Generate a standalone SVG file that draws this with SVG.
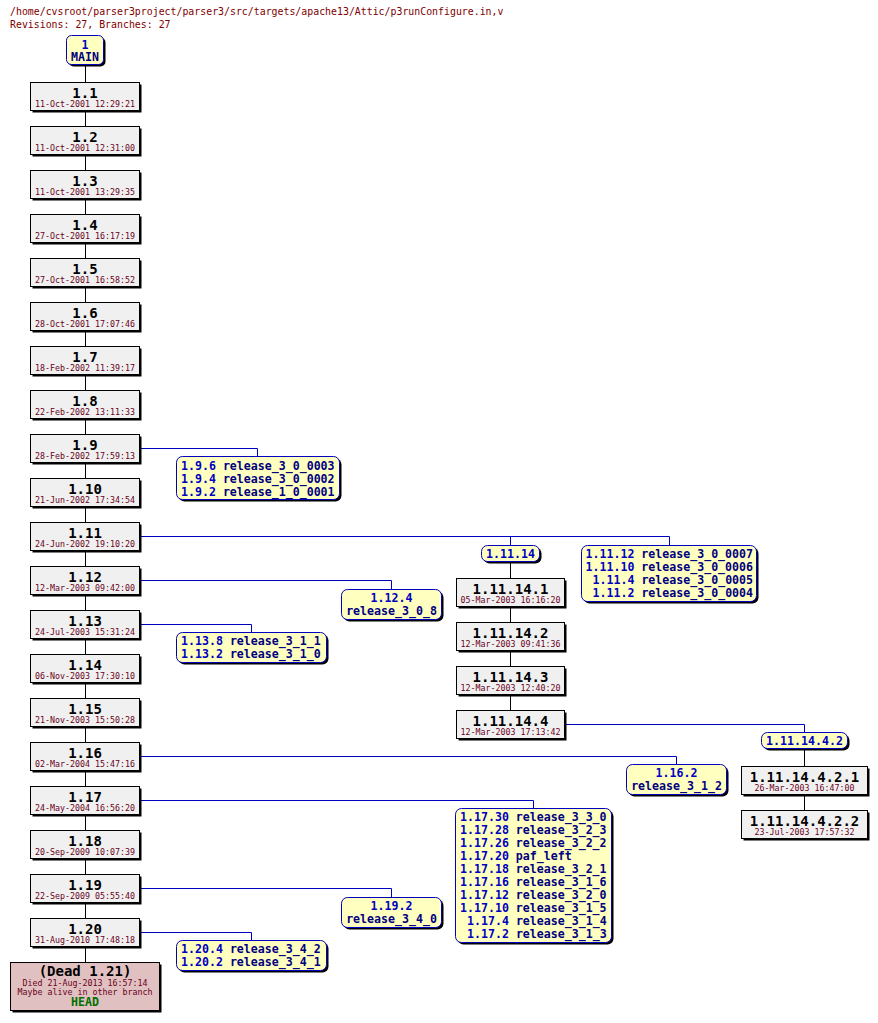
<svg xmlns="http://www.w3.org/2000/svg" width="878" height="1023" viewBox="0 0 878 1023">
<style>
.bg{fill:#fff}
.hd{font-family:"DejaVu Sans Mono","Liberation Mono",monospace;font-size:9.9px;fill:#800000}
.sh{fill:#000}
.rb{fill:#f0f0f0;stroke:#000;stroke-width:1}
.db{fill:#e0c0c0;stroke:#000;stroke-width:1}
.tb{fill:#ffffc0;stroke:#0000c0;stroke-width:1}
.rv{font-family:"DejaVu Sans Mono","Liberation Mono",monospace;font-weight:bold;font-size:14px;fill:#000;text-anchor:middle}
.dt{font-family:"DejaVu Sans Mono","Liberation Mono",monospace;font-size:8.3px;fill:#6a0020;text-anchor:middle}
.tg{font-family:"DejaVu Sans Mono","Liberation Mono",monospace;font-weight:bold;font-size:11.6px}
.c{text-anchor:middle}
.bn{fill:#0000c0}
.tn{fill:#000080}
.hh{fill:#007000}
.ml{stroke:#000;stroke-width:1;fill:none}
.bl{stroke:#0000c0;stroke-width:1;fill:none}
</style>
<rect class="bg" x="0" y="0" width="878" height="1023"/>
<g id="header">
<text class="hd" x="10" y="15">/home/cvsroot/parser3project/parser3/src/targets/apache13/Attic/p3runConfigure.in,v</text>
<text class="hd" x="10" y="28">Revisions: 27, Branches: 27</text>
</g>
<g id="connectors">
<path class="ml" d="M85.5 64.5V82M85.5 110V126M85.5 154V170M85.5 198V214M85.5 242V258M85.5 286V302M85.5 330V346M85.5 374V390M85.5 418V434M85.5 462V478M85.5 506V522M85.5 550V566M85.5 594V610M85.5 638V654M85.5 682V698M85.5 726V742M85.5 770V786M85.5 814V830M85.5 858V874M85.5 902V918M85.5 946V962"/>
<path class="ml" d="M510.5 562V578M510.5 606V622M510.5 650V666M510.5 694V710M804.5 750V766M804.5 794V810"/>
<path class="bl" d="M139.5 448.5H257.5V456"/>
<path class="bl" d="M139.5 536.5H669.5V545M510.5 536.5V545"/>
<path class="bl" d="M139.5 580.5H391.5V589"/>
<path class="bl" d="M139.5 624.5H251.5V632"/>
<path class="bl" d="M564.5 724.5H804.5V732"/>
<path class="bl" d="M139.5 756.5H676.5V764"/>
<path class="bl" d="M139.5 800.5H533.5V808"/>
<path class="bl" d="M139.5 888.5H391.5V897"/>
<path class="bl" d="M139.5 932.5H251.5V940"/>
</g>
<g id="n-main">
<rect class="sh" x="68.5" y="37.5" width="37" height="29" rx="5"/>
<rect class="tb" x="66.5" y="35.5" width="37" height="29" rx="5"/>
<text class="tg c bn" x="85" y="48.5">1</text>
<text class="tg c tn" x="85" y="61">MAIN</text>
</g>
<g id="n-1.1"><rect class="sh" x="32.5" y="84.5" width="109" height="28"/><rect class="rb" x="30.5" y="82.5" width="109" height="28"/><text class="rv" x="85" y="97.5">1.1</text><text class="dt" x="85" y="107">11-Oct-2001 12:29:21</text></g>
<g id="n-1.2"><rect class="sh" x="32.5" y="128.5" width="109" height="28"/><rect class="rb" x="30.5" y="126.5" width="109" height="28"/><text class="rv" x="85" y="141.5">1.2</text><text class="dt" x="85" y="151">11-Oct-2001 12:31:00</text></g>
<g id="n-1.3"><rect class="sh" x="32.5" y="172.5" width="109" height="28"/><rect class="rb" x="30.5" y="170.5" width="109" height="28"/><text class="rv" x="85" y="185.5">1.3</text><text class="dt" x="85" y="195">11-Oct-2001 13:29:35</text></g>
<g id="n-1.4"><rect class="sh" x="32.5" y="216.5" width="109" height="28"/><rect class="rb" x="30.5" y="214.5" width="109" height="28"/><text class="rv" x="85" y="229.5">1.4</text><text class="dt" x="85" y="239">27-Oct-2001 16:17:19</text></g>
<g id="n-1.5"><rect class="sh" x="32.5" y="260.5" width="109" height="28"/><rect class="rb" x="30.5" y="258.5" width="109" height="28"/><text class="rv" x="85" y="273.5">1.5</text><text class="dt" x="85" y="283">27-Oct-2001 16:58:52</text></g>
<g id="n-1.6"><rect class="sh" x="32.5" y="304.5" width="109" height="28"/><rect class="rb" x="30.5" y="302.5" width="109" height="28"/><text class="rv" x="85" y="317.5">1.6</text><text class="dt" x="85" y="327">28-Oct-2001 17:07:46</text></g>
<g id="n-1.7"><rect class="sh" x="32.5" y="348.5" width="109" height="28"/><rect class="rb" x="30.5" y="346.5" width="109" height="28"/><text class="rv" x="85" y="361.5">1.7</text><text class="dt" x="85" y="371">18-Feb-2002 11:39:17</text></g>
<g id="n-1.8"><rect class="sh" x="32.5" y="392.5" width="109" height="28"/><rect class="rb" x="30.5" y="390.5" width="109" height="28"/><text class="rv" x="85" y="405.5">1.8</text><text class="dt" x="85" y="415">22-Feb-2002 13:11:33</text></g>
<g id="n-1.9"><rect class="sh" x="32.5" y="436.5" width="109" height="28"/><rect class="rb" x="30.5" y="434.5" width="109" height="28"/><text class="rv" x="85" y="449.5">1.9</text><text class="dt" x="85" y="459">28-Feb-2002 17:59:13</text></g>
<g id="n-1.10"><rect class="sh" x="32.5" y="480.5" width="109" height="28"/><rect class="rb" x="30.5" y="478.5" width="109" height="28"/><text class="rv" x="85" y="493.5">1.10</text><text class="dt" x="85" y="503">21-Jun-2002 17:34:54</text></g>
<g id="n-1.11"><rect class="sh" x="32.5" y="524.5" width="109" height="28"/><rect class="rb" x="30.5" y="522.5" width="109" height="28"/><text class="rv" x="85" y="537.5">1.11</text><text class="dt" x="85" y="547">24-Jun-2002 19:10:20</text></g>
<g id="n-1.12"><rect class="sh" x="32.5" y="568.5" width="109" height="28"/><rect class="rb" x="30.5" y="566.5" width="109" height="28"/><text class="rv" x="85" y="581.5">1.12</text><text class="dt" x="85" y="591">12-Mar-2003 09:42:00</text></g>
<g id="n-1.13"><rect class="sh" x="32.5" y="612.5" width="109" height="28"/><rect class="rb" x="30.5" y="610.5" width="109" height="28"/><text class="rv" x="85" y="625.5">1.13</text><text class="dt" x="85" y="635">24-Jul-2003 15:31:24</text></g>
<g id="n-1.14"><rect class="sh" x="32.5" y="656.5" width="109" height="28"/><rect class="rb" x="30.5" y="654.5" width="109" height="28"/><text class="rv" x="85" y="669.5">1.14</text><text class="dt" x="85" y="679">06-Nov-2003 17:30:10</text></g>
<g id="n-1.15"><rect class="sh" x="32.5" y="700.5" width="109" height="28"/><rect class="rb" x="30.5" y="698.5" width="109" height="28"/><text class="rv" x="85" y="713.5">1.15</text><text class="dt" x="85" y="723">21-Nov-2003 15:50:28</text></g>
<g id="n-1.16"><rect class="sh" x="32.5" y="744.5" width="109" height="28"/><rect class="rb" x="30.5" y="742.5" width="109" height="28"/><text class="rv" x="85" y="757.5">1.16</text><text class="dt" x="85" y="767">02-Mar-2004 15:47:16</text></g>
<g id="n-1.17"><rect class="sh" x="32.5" y="788.5" width="109" height="28"/><rect class="rb" x="30.5" y="786.5" width="109" height="28"/><text class="rv" x="85" y="801.5">1.17</text><text class="dt" x="85" y="811">24-May-2004 16:56:20</text></g>
<g id="n-1.18"><rect class="sh" x="32.5" y="832.5" width="109" height="28"/><rect class="rb" x="30.5" y="830.5" width="109" height="28"/><text class="rv" x="85" y="845.5">1.18</text><text class="dt" x="85" y="855">20-Sep-2009 10:07:39</text></g>
<g id="n-1.19"><rect class="sh" x="32.5" y="876.5" width="109" height="28"/><rect class="rb" x="30.5" y="874.5" width="109" height="28"/><text class="rv" x="85" y="889.5">1.19</text><text class="dt" x="85" y="899">22-Sep-2009 05:55:40</text></g>
<g id="n-1.20"><rect class="sh" x="32.5" y="920.5" width="109" height="28"/><rect class="rb" x="30.5" y="918.5" width="109" height="28"/><text class="rv" x="85" y="933.5">1.20</text><text class="dt" x="85" y="943">31-Aug-2010 17:48:18</text></g>
<g id="n-dead">
<rect class="sh" x="12.5" y="964.5" width="149" height="48"/>
<rect class="db" x="10.5" y="962.5" width="149" height="48"/>
<text class="rv" x="85" y="976">(Dead 1.21)</text>
<text class="dt" x="85" y="986">Died 21-Aug-2013 16:57:14</text>
<text class="dt" x="85" y="994.5">Maybe alive in other branch</text>
<text class="tg c hh" x="85" y="1006">HEAD</text>
</g>
<g id="t-1.9">
<rect class="sh" x="178.5" y="458.5" width="163" height="43" rx="6"/>
<rect class="tb" x="176.5" y="456.5" width="163" height="43" rx="6"/>
<text class="tg" x="181" y="469.5"><tspan class="bn">1.9.6 </tspan><tspan class="tn">release_3_0_0003</tspan></text>
<text class="tg" x="181" y="482.5"><tspan class="bn">1.9.4 </tspan><tspan class="tn">release_3_0_0002</tspan></text>
<text class="tg" x="181" y="495.5"><tspan class="bn">1.9.2 </tspan><tspan class="tn">release_1_0_0001</tspan></text>
</g>
<g id="t-1.11.14">
<rect class="sh" x="483.5" y="547.5" width="58" height="16" rx="6"/>
<rect class="tb" x="481.5" y="545.5" width="58" height="16" rx="6"/>
<text class="tg c bn" x="510.5" y="558">1.11.14</text>
</g>
<g id="t-1.11.12">
<rect class="sh" x="583.5" y="547.5" width="175" height="56" rx="6"/>
<rect class="tb" x="581.5" y="545.5" width="175" height="56" rx="6"/>
<text class="tg" x="585.5" y="558"><tspan class="bn">1.11.12 </tspan><tspan class="tn">release_3_0_0007</tspan></text>
<text class="tg" x="585.5" y="571"><tspan class="bn">1.11.10 </tspan><tspan class="tn">release_3_0_0006</tspan></text>
<text class="tg" x="592.5" y="584"><tspan class="bn">1.11.4 </tspan><tspan class="tn">release_3_0_0005</tspan></text>
<text class="tg" x="592.5" y="597"><tspan class="bn">1.11.2 </tspan><tspan class="tn">release_3_0_0004</tspan></text>
</g>
<g id="n-1.11.14.1"><rect class="sh" x="458.5" y="580.5" width="108" height="28"/><rect class="rb" x="456.5" y="578.5" width="108" height="28"/><text class="rv" x="510.5" y="593.5">1.11.14.1</text><text class="dt" x="510.5" y="603">05-Mar-2003 16:16:20</text></g>
<g id="n-1.11.14.2"><rect class="sh" x="458.5" y="624.5" width="108" height="28"/><rect class="rb" x="456.5" y="622.5" width="108" height="28"/><text class="rv" x="510.5" y="637.5">1.11.14.2</text><text class="dt" x="510.5" y="647">12-Mar-2003 09:41:36</text></g>
<g id="n-1.11.14.3"><rect class="sh" x="458.5" y="668.5" width="108" height="28"/><rect class="rb" x="456.5" y="666.5" width="108" height="28"/><text class="rv" x="510.5" y="681.5">1.11.14.3</text><text class="dt" x="510.5" y="691">12-Mar-2003 12:40:20</text></g>
<g id="n-1.11.14.4"><rect class="sh" x="458.5" y="712.5" width="108" height="28"/><rect class="rb" x="456.5" y="710.5" width="108" height="28"/><text class="rv" x="510.5" y="725.5">1.11.14.4</text><text class="dt" x="510.5" y="735">12-Mar-2003 17:13:42</text></g>
<g id="t-1.12">
<rect class="sh" x="343.5" y="591.5" width="100" height="30" rx="6"/>
<rect class="tb" x="341.5" y="589.5" width="100" height="30" rx="6"/>
<text class="tg c bn" x="391.5" y="602">1.12.4</text>
<text class="tg c tn" x="391.5" y="615">release_3_0_8</text>
</g>
<g id="t-1.13">
<rect class="sh" x="178.5" y="634.5" width="150" height="30" rx="6"/>
<rect class="tb" x="176.5" y="632.5" width="150" height="30" rx="6"/>
<text class="tg" x="181" y="645"><tspan class="bn">1.13.8 </tspan><tspan class="tn">release_3_1_1</tspan></text>
<text class="tg" x="181" y="658"><tspan class="bn">1.13.2 </tspan><tspan class="tn">release_3_1_0</tspan></text>
</g>
<g id="t-1.11.14.4.2">
<rect class="sh" x="763.5" y="734.5" width="86" height="16" rx="6"/>
<rect class="tb" x="761.5" y="732.5" width="86" height="16" rx="6"/>
<text class="tg c bn" x="804.5" y="745">1.11.14.4.2</text>
</g>
<g id="n-1.11.14.4.2.1"><rect class="sh" x="743.5" y="768.5" width="126" height="28"/><rect class="rb" x="741.5" y="766.5" width="126" height="28"/><text class="rv" x="804.5" y="781.5">1.11.14.4.2.1</text><text class="dt" x="804.5" y="791">26-Mar-2003 16:47:00</text></g>
<g id="n-1.11.14.4.2.2"><rect class="sh" x="743.5" y="812.5" width="126" height="28"/><rect class="rb" x="741.5" y="810.5" width="126" height="28"/><text class="rv" x="804.5" y="825.5">1.11.14.4.2.2</text><text class="dt" x="804.5" y="835">23-Jul-2003 17:57:32</text></g>
<g id="t-1.16">
<rect class="sh" x="628.5" y="766.5" width="100" height="30" rx="6"/>
<rect class="tb" x="626.5" y="764.5" width="100" height="30" rx="6"/>
<text class="tg c bn" x="676.5" y="777">1.16.2</text>
<text class="tg c tn" x="676.5" y="790">release_3_1_2</text>
</g>
<g id="t-1.17">
<rect class="sh" x="457.5" y="810.5" width="156" height="134" rx="6"/>
<rect class="tb" x="455.5" y="808.5" width="156" height="134" rx="6"/>
<text class="tg" x="460" y="821"><tspan class="bn">1.17.30 </tspan><tspan class="tn">release_3_3_0</tspan></text>
<text class="tg" x="460" y="834"><tspan class="bn">1.17.28 </tspan><tspan class="tn">release_3_2_3</tspan></text>
<text class="tg" x="460" y="847"><tspan class="bn">1.17.26 </tspan><tspan class="tn">release_3_2_2</tspan></text>
<text class="tg" x="460" y="860"><tspan class="bn">1.17.20 </tspan><tspan class="tn">paf_left</tspan></text>
<text class="tg" x="460" y="873"><tspan class="bn">1.17.18 </tspan><tspan class="tn">release_3_2_1</tspan></text>
<text class="tg" x="460" y="886"><tspan class="bn">1.17.16 </tspan><tspan class="tn">release_3_1_6</tspan></text>
<text class="tg" x="460" y="899"><tspan class="bn">1.17.12 </tspan><tspan class="tn">release_3_2_0</tspan></text>
<text class="tg" x="460" y="912"><tspan class="bn">1.17.10 </tspan><tspan class="tn">release_3_1_5</tspan></text>
<text class="tg" x="467" y="925"><tspan class="bn">1.17.4 </tspan><tspan class="tn">release_3_1_4</tspan></text>
<text class="tg" x="467" y="938"><tspan class="bn">1.17.2 </tspan><tspan class="tn">release_3_1_3</tspan></text>
</g>
<g id="t-1.19">
<rect class="sh" x="343.5" y="899.5" width="100" height="30" rx="6"/>
<rect class="tb" x="341.5" y="897.5" width="100" height="30" rx="6"/>
<text class="tg c bn" x="391.5" y="910">1.19.2</text>
<text class="tg c tn" x="391.5" y="923">release_3_4_0</text>
</g>
<g id="t-1.20">
<rect class="sh" x="178.5" y="942.5" width="150" height="30" rx="6"/>
<rect class="tb" x="176.5" y="940.5" width="150" height="30" rx="6"/>
<text class="tg" x="181" y="953"><tspan class="bn">1.20.4 </tspan><tspan class="tn">release_3_4_2</tspan></text>
<text class="tg" x="181" y="966"><tspan class="bn">1.20.2 </tspan><tspan class="tn">release_3_4_1</tspan></text>
</g>
</svg>
